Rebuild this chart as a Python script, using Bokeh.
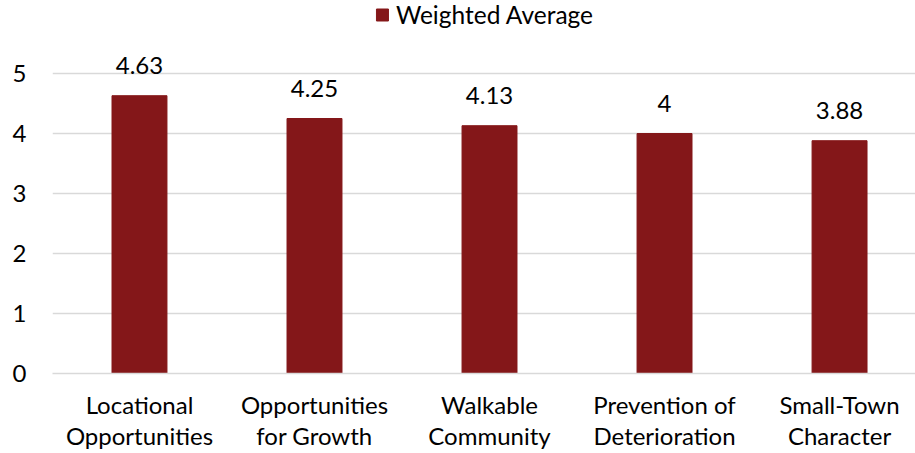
from bokeh.plotting import figure
from bokeh.models import Range1d, FixedTicker, Legend, LegendItem, ColumnDataSource
from bokeh.core.properties import value
from bokeh.embed import file_html
from bokeh.resources import INLINE

categories = ["Locational\nOpportunities", "Opportunities\nfor Growth", "Walkable\nCommunity",
              "Prevention of\nDeterioration", "Small-Town\nCharacter"]
values = [4.63, 4.25, 4.13, 4.00, 3.88]
value_labels = ["4.63", "4.25", "4.13", "4", "3.88"]
y_ticks = [0, 1, 2, 3, 4, 5]
series_name = "Weighted Average"

FONT = "Lato"
FS = "24px"
BAR = "#841719"
GRID = "#D9D9D9"

xs = list(range(len(categories)))
src = ColumnDataSource(dict(x=xs, top=values, lab=value_labels))

p = figure(width=915, height=453, output_backend="svg", toolbar_location=None,
           x_range=Range1d(-0.497, 4.434), y_range=Range1d(0, 6.217),
           min_border_left=52, min_border_right=0, min_border_top=0, min_border_bottom=80)
p.outline_line_color = None
p.background_fill_color = "white"
p.border_fill_color = "white"

r = p.vbar(x="x", top="top", width=0.314, source=src, fill_color=BAR, line_color=BAR)
p.text(x="x", y="top", text="lab", source=src, text_align="center", text_baseline="bottom",
       y_offset=-22, text_font=value(FONT), text_font_size=FS, text_color="black")

p.xgrid.grid_line_color = None
p.ygrid.grid_line_color = GRID
p.ygrid.grid_line_width = 1.5
p.ygrid.ticker = FixedTicker(ticks=y_ticks)

p.yaxis.ticker = FixedTicker(ticks=y_ticks)
p.yaxis.axis_line_color = None
p.yaxis.major_tick_line_color = None
p.yaxis.major_tick_out = 0
p.yaxis.minor_tick_line_color = None
p.yaxis.major_label_standoff = 26
p.yaxis.major_label_text_font = FONT
p.yaxis.major_label_text_font_size = FS
p.yaxis.major_label_text_color = "black"

p.xaxis.ticker = FixedTicker(ticks=xs)
p.xaxis.major_label_overrides = {i: c for i, c in enumerate(categories)}
p.xaxis.axis_line_color = GRID
p.xaxis.axis_line_width = 1.5
p.xaxis.major_tick_line_color = None
p.xaxis.minor_tick_line_color = None
p.xaxis.major_label_standoff = 10
p.xaxis.major_label_text_font = FONT
p.xaxis.major_label_text_font_size = FS
p.xaxis.major_label_text_line_height = 1.07
p.xaxis.major_label_text_color = "black"

legend = Legend(items=[LegendItem(label=series_name, renderers=[r])], location="top_center",
                orientation="horizontal", margin=0, padding=12, glyph_width=15, glyph_height=15,
                label_standoff=7, label_text_font=FONT, label_text_font_size="24.5px",
                label_text_color="black", background_fill_alpha=0, border_line_color=None)
p.add_layout(legend)

open("out.html", "w").write(file_html(p, INLINE))
